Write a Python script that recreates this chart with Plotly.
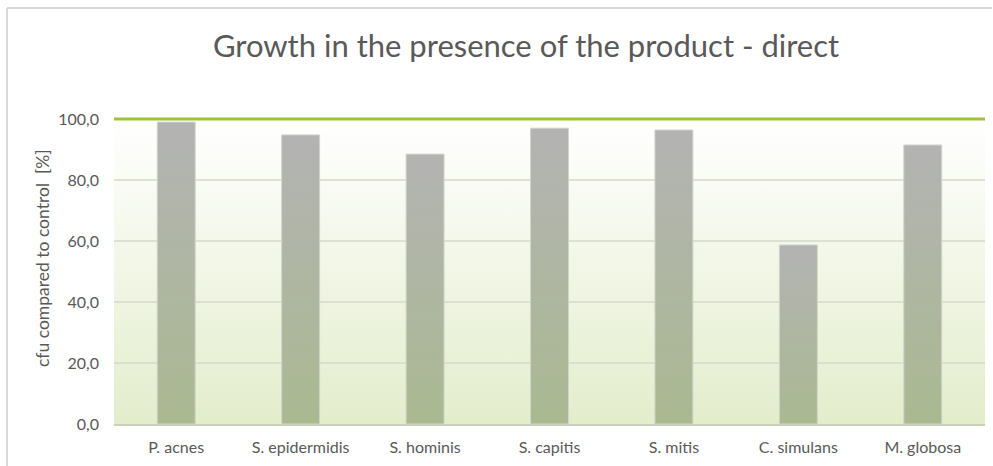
import plotly.graph_objects as go

categories = ["P. acnes", "S. epidermidis", "S. hominis", "S. capitis", "S. mitis", "C. simulans", "M. globosa"]
values = [99.0, 94.8, 88.5, 97.0, 96.4, 58.7, 91.5]
y_ticks = [0, 20, 40, 60, 80, 100]
y_tick_labels = ["0,0", "20,0", "40,0", "60,0", "80,0", "100,0"]
reference_level = 100

FONT = "Lato"
TXT = "#595959"
BAR_W = 0.305
n = len(categories)
x_lo, x_hi = -0.5, n - 0.5

fig = go.Figure()

# plot-area gradient background
fig.add_trace(go.Scatter(
    x=[x_lo, x_hi, x_hi, x_lo, x_lo], y=[0, 0, 100, 100, 0],
    fill="toself", mode="lines", line=dict(width=0),
    fillgradient=dict(type="vertical", colorscale=[[0, "#E3EDCC"], [1, "#FFFFFF"]]),
    hoverinfo="skip", showlegend=False))

# gridlines (drawn over background, under bars)
gx, gy = [], []
for t in y_ticks[1:-1]:
    gx += [x_lo, x_hi, None]
    gy += [t, t, None]
fig.add_trace(go.Scatter(x=gx, y=gy, mode="lines",
                         line=dict(color="#D6D9CC", width=1.5),
                         hoverinfo="skip", showlegend=False))

# bars with vertical gradient
for i, v in enumerate(values):
    fig.add_trace(go.Scatter(
        x=[i - BAR_W / 2, i + BAR_W / 2, i + BAR_W / 2, i - BAR_W / 2, i - BAR_W / 2],
        y=[0, 0, v, v, 0],
        fill="toself", mode="lines", line=dict(color="#D2D4CC", width=1),
        fillgradient=dict(type="vertical", colorscale=[[0, "#AAB991"], [1, "#B3B3B3"]]),
        name=categories[i], hovertemplate=f"{categories[i]}: %{{y:.1f}}<extra></extra>",
        showlegend=False))

# reference line at 100
fig.add_trace(go.Scatter(x=[x_lo, x_hi], y=[reference_level, reference_level], mode="lines",
                         line=dict(color="#9DC43B", width=3),
                         hoverinfo="skip", showlegend=False))

L, R, T, B = 114, 8, 116, 42
W, H = 993, 466
ph = H - T - B
pw = W - L - R

def px_x(p):
    return (p - L) / pw

def px_y(p):
    return (H - B - p) / ph

fig.update_layout(
    width=W, height=H,
    margin=dict(l=L, r=R, t=T, b=B, autoexpand=False),
    paper_bgcolor="white", plot_bgcolor="rgba(0,0,0,0)",
    font=dict(family=FONT, color=TXT, size=16),
    title=dict(text="Growth in the presence of the product - direct",
               x=526 / W, xref="container", xanchor="center",
               y=1 - 46 / H, yref="container", yanchor="middle",
               font=dict(family=FONT, size=31, color=TXT)),
    xaxis=dict(range=[x_lo, x_hi], tickvals=list(range(n)), ticktext=categories,
               showgrid=False, zeroline=False, showline=True, linecolor="#C9D2B5",
               linewidth=1.5, ticks="", ticklabelstandoff=8, automargin=False,
               tickfont=dict(size=16, color=TXT), fixedrange=True),
    yaxis=dict(range=[0, 101], tickvals=y_ticks, ticktext=y_tick_labels,
               showgrid=False, zeroline=False, showline=False, ticks="",
               ticklabelstandoff=14, automargin=False, tickfont=dict(size=16, color=TXT),
               fixedrange=True),
    annotations=[dict(text="cfu compared to control\u00a0\u00a0[%]", textangle=-90,
                      xref="paper", yref="paper", x=px_x(42), y=px_y(258),
                      xanchor="center", yanchor="middle", showarrow=False,
                      font=dict(size=17.5, color=TXT, family=FONT))],
    shapes=[
        dict(type="line", xref="paper", yref="paper",
             x0=px_x(7), x1=px_x(7), y0=px_y(8), y1=px_y(480),
             line=dict(color="#D9D9D9", width=2)),
        dict(type="line", xref="paper", yref="paper",
             x0=px_x(7), x1=px_x(992), y0=px_y(8), y1=px_y(8),
             line=dict(color="#D9D9D9", width=2)),
    ],
)

fig.write_html("out.html", config={"displayModeBar": False}, full_html=True,
               default_width="993px", default_height="466px")

css = ("<style>html,body{margin:0;padding:0;overflow:hidden;width:993px;height:466px;background:#fff;}"
       "::-webkit-scrollbar{display:none;width:0;height:0;}</style>")
with open("out.html", "r", encoding="utf-8") as f:
    html = f.read()
html = html.replace("<head>", "<head>" + css, 1)
with open("out.html", "w", encoding="utf-8") as f:
    f.write(html)
